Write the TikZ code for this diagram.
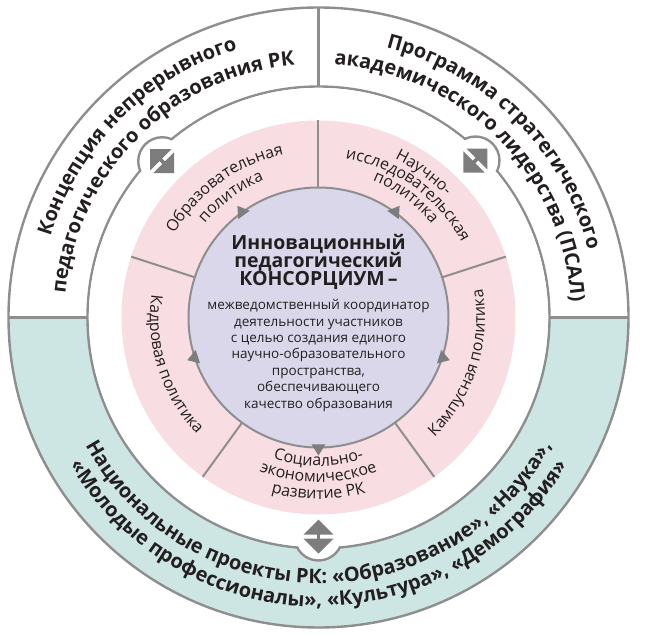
\documentclass[tikz,border=0pt]{standalone}
\usepackage{fontspec}
\setmainfont{Open Sans}
\usetikzlibrary{decorations.text}
\definecolor{pinkc}{HTML}{F8DDE3}
\definecolor{lavc}{HTML}{DAD7EB}
\definecolor{tealc}{HTML}{CDE6E4}
\definecolor{lineg}{HTML}{8E8E8E}
\definecolor{icong}{HTML}{7D7D7D}
\definecolor{txt}{HTML}{231F20}
\newcommand\arctxt[5]{%
  \path[decorate,decoration={text along path,text align=center,text color=txt,text={|#4|#5}}]
    (#2:#1pt) arc[start angle=#2,end angle=#3,radius=#1pt];}
\newcommand\ringfont{\bfseries\fontsize{20}{24}\selectfont}
\newcommand\secfont{\fontsize{16}{18}\selectfont}
\tikzset{
  ringline/.style={draw=lineg,line width=2.4pt},
  secline/.style={draw=lineg,line width=2pt},
  titletxt/.style={text=txt,font=\bfseries\fontsize{19.5}{20}\selectfont,anchor=base,inner sep=0pt},
  bodytxt/.style={text=txt,font=\fontsize{13.5}{15}\selectfont,anchor=base,inner sep=0pt},
  marktri/.style={fill=icong,draw=none},
}
\begin{document}
\begin{tikzpicture}[x=1pt,y=1pt]
\useasboundingbox (-318.5,-317.5) rectangle (327.5,317.5);
% outer ring
\fill[tealc] (180:310pt) arc[start angle=180,end angle=360,radius=310pt] -- cycle;
\draw[ringline] (0,0) circle[radius=310pt];
\draw[ringline] (0,0) circle[radius=231pt];
\draw[ringline] (90:231pt) -- (90:310pt);
\draw[ringline] (180:231pt) -- (180:310pt);
\draw[ringline] (0:231pt) -- (0:310pt);
% bumps
\foreach \a/\r in {135/221,45/222,270/219}{
  \filldraw[fill=white,draw=lineg,line width=2.4pt] (\a:\r pt) circle[radius=24pt];
}
\fill[white] (0,0) circle[radius=229.6pt];
% pink ring
\fill[pinkc] (0,0) circle[radius=197pt];
\foreach \a in {18,90,162,234,306}{
  \draw[secline] (\a:130pt) -- (\a:197pt);
}
\filldraw[fill=lavc,draw=lineg,line width=2pt] (0,0) circle[radius=130pt];
% triangles on the central circle
\foreach \a in {126,54,198,270,342}{
  \pgfmathsetmacro\am{\a-3.2}
  \pgfmathsetmacro\ap{\a+3.2}
  \fill[marktri] (\am:127pt) -- (\a:138pt) -- (\ap:127pt) -- cycle;
}
% icons
\foreach \a/\r in {135/221,45/222,270/219}{
  \begin{scope}[shift={(\a:\r pt)},rotate=\a-90]
    \fill[icong] (0,17) -- (-15,2) -- (15,2) -- cycle;
    \fill[icong] (0,-17) -- (-15,-2) -- (15,-2) -- cycle;
    \fill[icong] (-1.8,-2.5) rectangle (1.8,2.5);
  \end{scope}
}
% outer ring texts
\arctxt{280}{195}{75}{\ringfont}{Концепция непрерывного}
\arctxt{254}{195}{75}{\ringfont}{педагогического образования РК}
\arctxt{278}{105}{-15}{\ringfont}{Программа стратегического}
\arctxt{253}{105}{-15}{\ringfont}{академического лидерства (ПСАЛ)}
\arctxt{266}{195}{345}{\ringfont}{Национальные проекты РК: «Образование», «Наука»,}
\arctxt{289}{195}{345}{\ringfont}{«Молодые профессионалы», «Культура», «Демография»}
% sector texts
\arctxt{166.5}{170}{82}{\secfont}{Образовательная}
\arctxt{147.5}{170}{82}{\secfont}{политика}
\arctxt{176}{100}{8}{\secfont}{Научно-}
\arctxt{161.5}{100}{8}{\secfont}{исследовательская}
\arctxt{147}{100}{8}{\secfont}{политика}
\arctxt{168.5}{150}{246}{\secfont}{Кадровая политика}
\arctxt{166.5}{294}{390}{\secfont}{Кампусная политика}
\arctxt{148.5}{225}{315}{\secfont}{Социально-}
\arctxt{164.5}{225}{315}{\secfont}{экономическое}
\arctxt{181.5}{225}{315}{\secfont}{развитие РК}
% centre text
\node[titletxt] (t1) at (0,67.5) {Инновационный};
\node[titletxt] (t2) at (0,50) {педагогический};
\node[titletxt] (t3) at (0,32.5) {КОНСОРЦИУМ\,–};
\node[bodytxt] (b1) at (0,8) {межведомственный координатор};
\node[bodytxt] (b2) at (0,-9) {деятельности участников};
\node[bodytxt] (b3) at (0,-25) {с целью создания единого};
\node[bodytxt] (b4) at (0,-41) {научно-образовательного};
\node[bodytxt] (b5) at (0,-58) {пространства,};
\node[bodytxt] (b6) at (0,-74) {обеспечивающего};
\node[bodytxt] (b7) at (0,-90.5) {качество образования};
\end{tikzpicture}
\end{document}
